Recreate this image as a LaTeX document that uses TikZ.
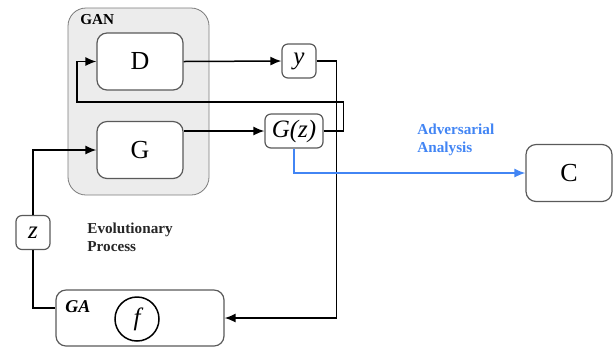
\documentclass[tikz,border=0pt]{standalone}
\usepackage{amsmath,amssymb}
\usepackage{fontspec}
\setmainfont{Liberation Serif}
\usepackage{xcolor}
\usepackage{tikz}
\usetikzlibrary{arrows.meta,positioning,calc}
\definecolor{advblue}{RGB}{66,133,244}
\definecolor{grpfill}{RGB}{236,236,236}
\definecolor{edgec}{RGB}{90,90,90}

\begin{document}
\begin{tikzpicture}[
  x=0.5pt,y=-0.5pt,
  grp/.style={draw=edgec!80,fill=grpfill,rounded corners=9pt,minimum width=70.5pt,minimum height=93.5pt,inner sep=0pt},
  blk/.style={draw=edgec,fill=white,rounded corners=5pt,line width=0.6pt,minimum width=43pt,minimum height=28.5pt,inner sep=0pt,font=\fontsize{13}{15}\selectfont},
  sml/.style={draw=edgec,fill=white,rounded corners=3pt,line width=0.6pt,minimum width=17pt,minimum height=17pt,inner sep=0pt,font=\fontsize{12.5}{14}\selectfont\itshape},
  lbl/.style={font=\fontsize{7.6}{8.6}\selectfont\bfseries,align=left,inner sep=0pt},
  ar/.style={line width=0.75pt,-{Latex[length=5.5pt,width=4.5pt]}},
  ln/.style={line width=0.75pt}
]
\useasboundingbox (0,0) rectangle (614,350);
\node[grp] (gan) at (138.5,101.5) {};
\node[lbl,anchor=north west] (ganl) at (80,14) {GAN};
\node[blk] (d) at (140,61.5) {D};
\node[blk] (g) at (140,150) {G};
\node[sml] (y) at (299,61) {y};
\node[sml,minimum width=29pt] (gz) at (294,131) {G(z)};
\node[blk] (c) at (569,173) {C};
\node[sml] (z) at (33,232.5) {z};
\node[blk,minimum width=84pt,minimum height=28pt] (ga) at (140,318) {};
\node[draw,circle,line width=0.75pt,minimum size=22pt,inner sep=0pt,font=\fontsize{12.5}{14}\selectfont\itshape] (f) at (137,319) {f};
\node[lbl,font=\fontsize{9}{10}\selectfont\bfseries\itshape,anchor=west] (gal) at (65,307) {GA};
\node[lbl,anchor=north west,text=black!85] (evo) at (87,223) {Evolutionary\\Process};
\node[lbl,anchor=north west,text=advblue] (adv) at (417,124) {Adversarial\\Analysis};
\coordinate (fb) at (77,102);
\draw[ar] (d.east) -- (y.west);
\draw[ar] (g.east |- gz.west) -- (gz.west);
\draw[ar] (gz.east) -- ++(20,0) |- (fb) |- (d.west);
\draw[ar] (y.east) -- ++(20,0) |- (ga.east);
\draw[ar] (z.north) |- (g.west);
\draw[ln] (z.south) |- ([yshift=5pt]ga.west);
\draw[ar,advblue] (gz.south) |- (c.west);
\end{tikzpicture}
\end{document}
